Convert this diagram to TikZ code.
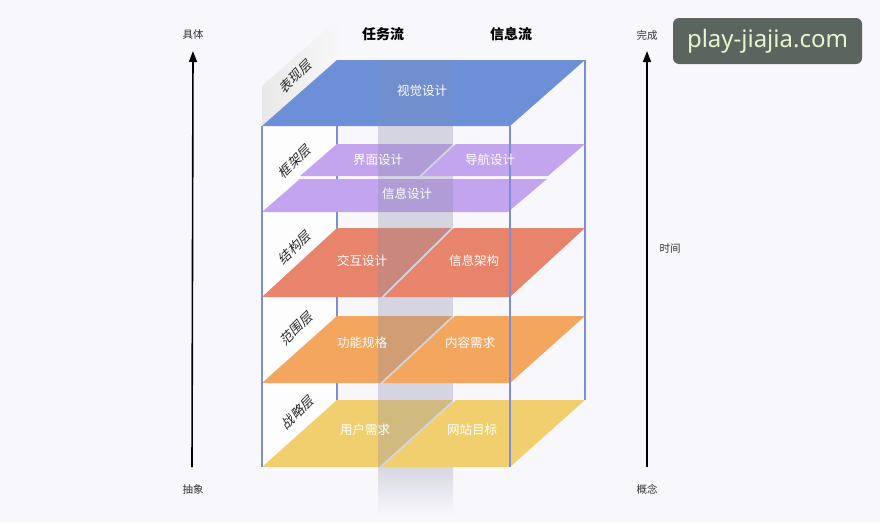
\documentclass[tikz,border=0pt]{standalone}
\usepackage{fontspec}
\setmainfont{Noto Sans CJK SC}
\newfontfamily\latinfont{Noto Sans}
\usepackage{tikz}
\usetikzlibrary{arrows.meta}
\definecolor{bgcol}{HTML}{F8F7FC}
\definecolor{edgecol}{HTML}{7B8ED6}
\definecolor{visual}{HTML}{6C8FD8}
\definecolor{frame}{HTML}{C3A5EF}
\definecolor{struct}{HTML}{E8846C}
\definecolor{scope}{HTML}{F4A55E}
\definecolor{strat}{HTML}{F2CF6E}
\definecolor{stripe}{HTML}{8A8EA6}
\definecolor{markbg}{HTML}{5B6560}
\definecolor{marktext}{HTML}{E9F4CF}
\tikzset{
  plate/.style={draw=none},
  tag/.style={text=white, font=\fontsize{12.5}{14}\selectfont},
  lay/.style={font=\fontsize{13}{15}\selectfont, text=black!85, rotate=45, xslant=0.25, inner sep=1pt},
  axis/.style={line width=1.6pt, -{Triangle[length=11pt,width=8pt]}},
  axlabel/.style={font=\fontsize{10.5}{12}\selectfont, text=black!80},
  flow/.style={font=\bfseries\fontsize{14}{16}\selectfont},
  edge/.style={draw=edgecol, line width=1.3pt}
}

\begin{document}
\begin{tikzpicture}[x=1pt, y=-1pt]
    \useasboundingbox (0,0) rectangle (880,522);
    \fill[bgcol] (0,0) rectangle (880,522);
    % side faces
    \shade[left color=black!9, right color=black!3] (262,126) -- (262,86) -- (337,20) -- (337,60) -- cycle;
    \fill[white, opacity=0.8] (262,212) -- (300,179) -- (300,176) -- (337,144) -- (337,126) -- (262,126) -- cycle;
    \fill[white, opacity=0.8] (262,297) -- (337,228) -- (337,212) -- (262,212) -- cycle;
    \fill[white, opacity=0.8] (262,383) -- (337,316) -- (337,297) -- (262,297) -- cycle;
    \fill[white, opacity=0.8] (262,467) -- (337,400) -- (337,383) -- (262,383) -- cycle;
    % back edges
    \draw[edge] (337,126) -- (337,400);
    \draw[edge] (585,60) -- (585,400);
    % plates, task side
    \fill[plate, visual] (262,126) -- (510,126) -- (585,60) -- (337,60) -- cycle;
    \fill[plate, frame] (300,176) -- (419,176) -- (453,144) -- (337,144) -- cycle;
    \fill[plate, frame] (262,212) -- (508,212) -- (547,179) -- (300,179) -- cycle;
    \fill[plate, struct] (262,297) -- (381,297) -- (451,228) -- (337,228) -- cycle;
    \fill[plate, scope] (262,383) -- (380,383) -- (452,316) -- (337,316) -- cycle;
    \fill[plate, strat] (262,467) -- (379,467) -- (453,400) -- (337,400) -- cycle;
    % stripe
    \fill[stripe, opacity=0.18] (378,60) rectangle (453,126);
    \fill[stripe, opacity=0.32] (378,126) rectangle (453,467);
    \shade[top color=stripe!30!bgcol, bottom color=bgcol] (378,467) rectangle (453,515);
    % plates, info side
    \fill[plate, frame] (422,176) -- (548,176) -- (585,144) -- (456,144) -- cycle;
    \fill[plate, struct] (384,297) -- (510,297) -- (585,228) -- (454,228) -- cycle;
    \fill[plate, scope] (383,383) -- (510,383) -- (585,316) -- (455,316) -- cycle;
    \fill[plate, strat] (382,467) -- (510,467) -- (585,400) -- (456,400) -- cycle;
    % front edges
    \draw[edge] (262,126) -- (262,467);
    \draw[edge] (510,126) -- (510,467);
    \node[tag] (visdes) at (422,91) {视觉设计};
    \node[tag] (uides) at (378,160) {界面设计};
    \node[tag] (navdes) at (490,160) {导航设计};
    \node[tag] (infodes) at (407,194) {信息设计};
    \node[tag] (ixdes) at (362,261) {交互设计};
    \node[tag] (infoarch) at (474,261) {信息架构};
    \node[tag] (funspec) at (362,343) {功能规格};
    \node[tag] (content) at (470,343) {内容需求};
    \node[tag] (userneed) at (365,430) {用户需求};
    \node[tag] (sitegoal) at (472,430) {网站目标};
    \node[lay] (surface) at (296,76) {表现层};
    \node[lay] (skeleton) at (295,161) {框架层};
    \node[lay] (structure) at (295,247) {结构层};
    \node[lay] (scopel) at (297,328) {范围层};
    \node[lay] (strategy) at (298,412) {战略层};
    \node[flow] (taskflow) at (383,34) {任务流};
    \node[flow] (infoflow) at (511,34) {信息流};
    \node[axlabel] (concrete) at (193,35) {具体};
    \node[axlabel] (abstract) at (193,489) {抽象};
    \node[axlabel] (done) at (647,35) {完成};
    \node[axlabel] (concept) at (647,489) {概念};
    \node[axlabel] (timel) at (670,249) {时间};
    \coordinate (lbot) at (192,467);
    \coordinate (rbot) at (647,467);
    \draw[axis] (lbot) -- (concrete.south |- 0,51);
    \draw[axis] (rbot) -- (done.south |- 0,51);
    \node[fill=markbg, rounded corners=6pt, minimum width=189pt, minimum height=46pt,
          text=marktext, font=\latinfont\fontsize{24}{27}\selectfont] (mark) at (767.5,41) {play-jiajia.com};
\end{tikzpicture}
\end{document}
